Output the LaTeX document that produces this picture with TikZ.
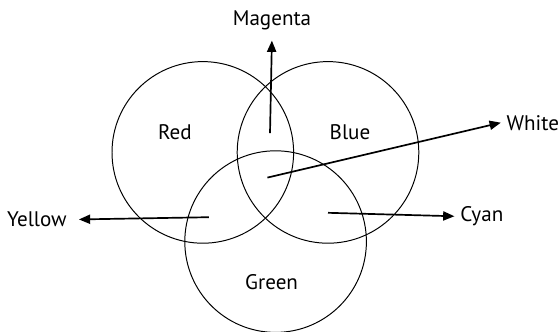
\documentclass[tikz,border=0pt]{standalone}
\usepackage{fontspec}
\setmainfont{PT Sans}
\usetikzlibrary{arrows.meta}

\begin{document}
\begin{tikzpicture}[
  disc/.style={circle, draw, line width=0.7pt, inner sep=0pt, minimum size=4.54cm},
  lbl/.style={font=\fontsize{15}{18}\selectfont, anchor=base, inner sep=4pt},
  ray/.style={line width=1.2pt, -{Triangle[length=8pt, width=6.5pt]}},
]
  \useasboundingbox (0,0) rectangle (13.975,-8.275);

  \node[disc] (redc)   at (5.07,-3.81) {};
  \node[disc] (bluec)  at (8.20,-3.81) {};
  \node[disc] (greenc) at (6.89,-6.04) {};

  \node[lbl] (red)   at (4.37,-3.48) {Red};
  \node[lbl] (blue)  at (8.75,-3.48) {Blue};
  \node[lbl] (green) at (6.79,-7.23) {Green};

  \node[lbl] (magenta) at (6.80,-0.633) {Magenta};
  \node[lbl, anchor=base west] (white)  at (12.52,-3.25) {White};
  \node[lbl, anchor=base west] (cyan)   at (11.36,-5.54) {Cyan};
  \node[lbl, anchor=base east] (yellow) at (1.815,-5.67) {Yellow};

  \coordinate (mix-m) at (6.75,-3.33);
  \coordinate (mix-w) at (6.685,-4.44);
  \coordinate (mix-y) at (5.22,-5.43);
  \coordinate (mix-c) at (8.20,-5.32);

  \draw[ray, shorten >=3.5pt] (mix-m) -- (magenta.south);
  \draw[ray] (mix-w) -- (white.west);
  \draw[ray] (mix-c) -- (cyan.west);
  \draw[ray, shorten >=4.5pt] (mix-y) -- (yellow.east);
\end{tikzpicture}
\end{document}
